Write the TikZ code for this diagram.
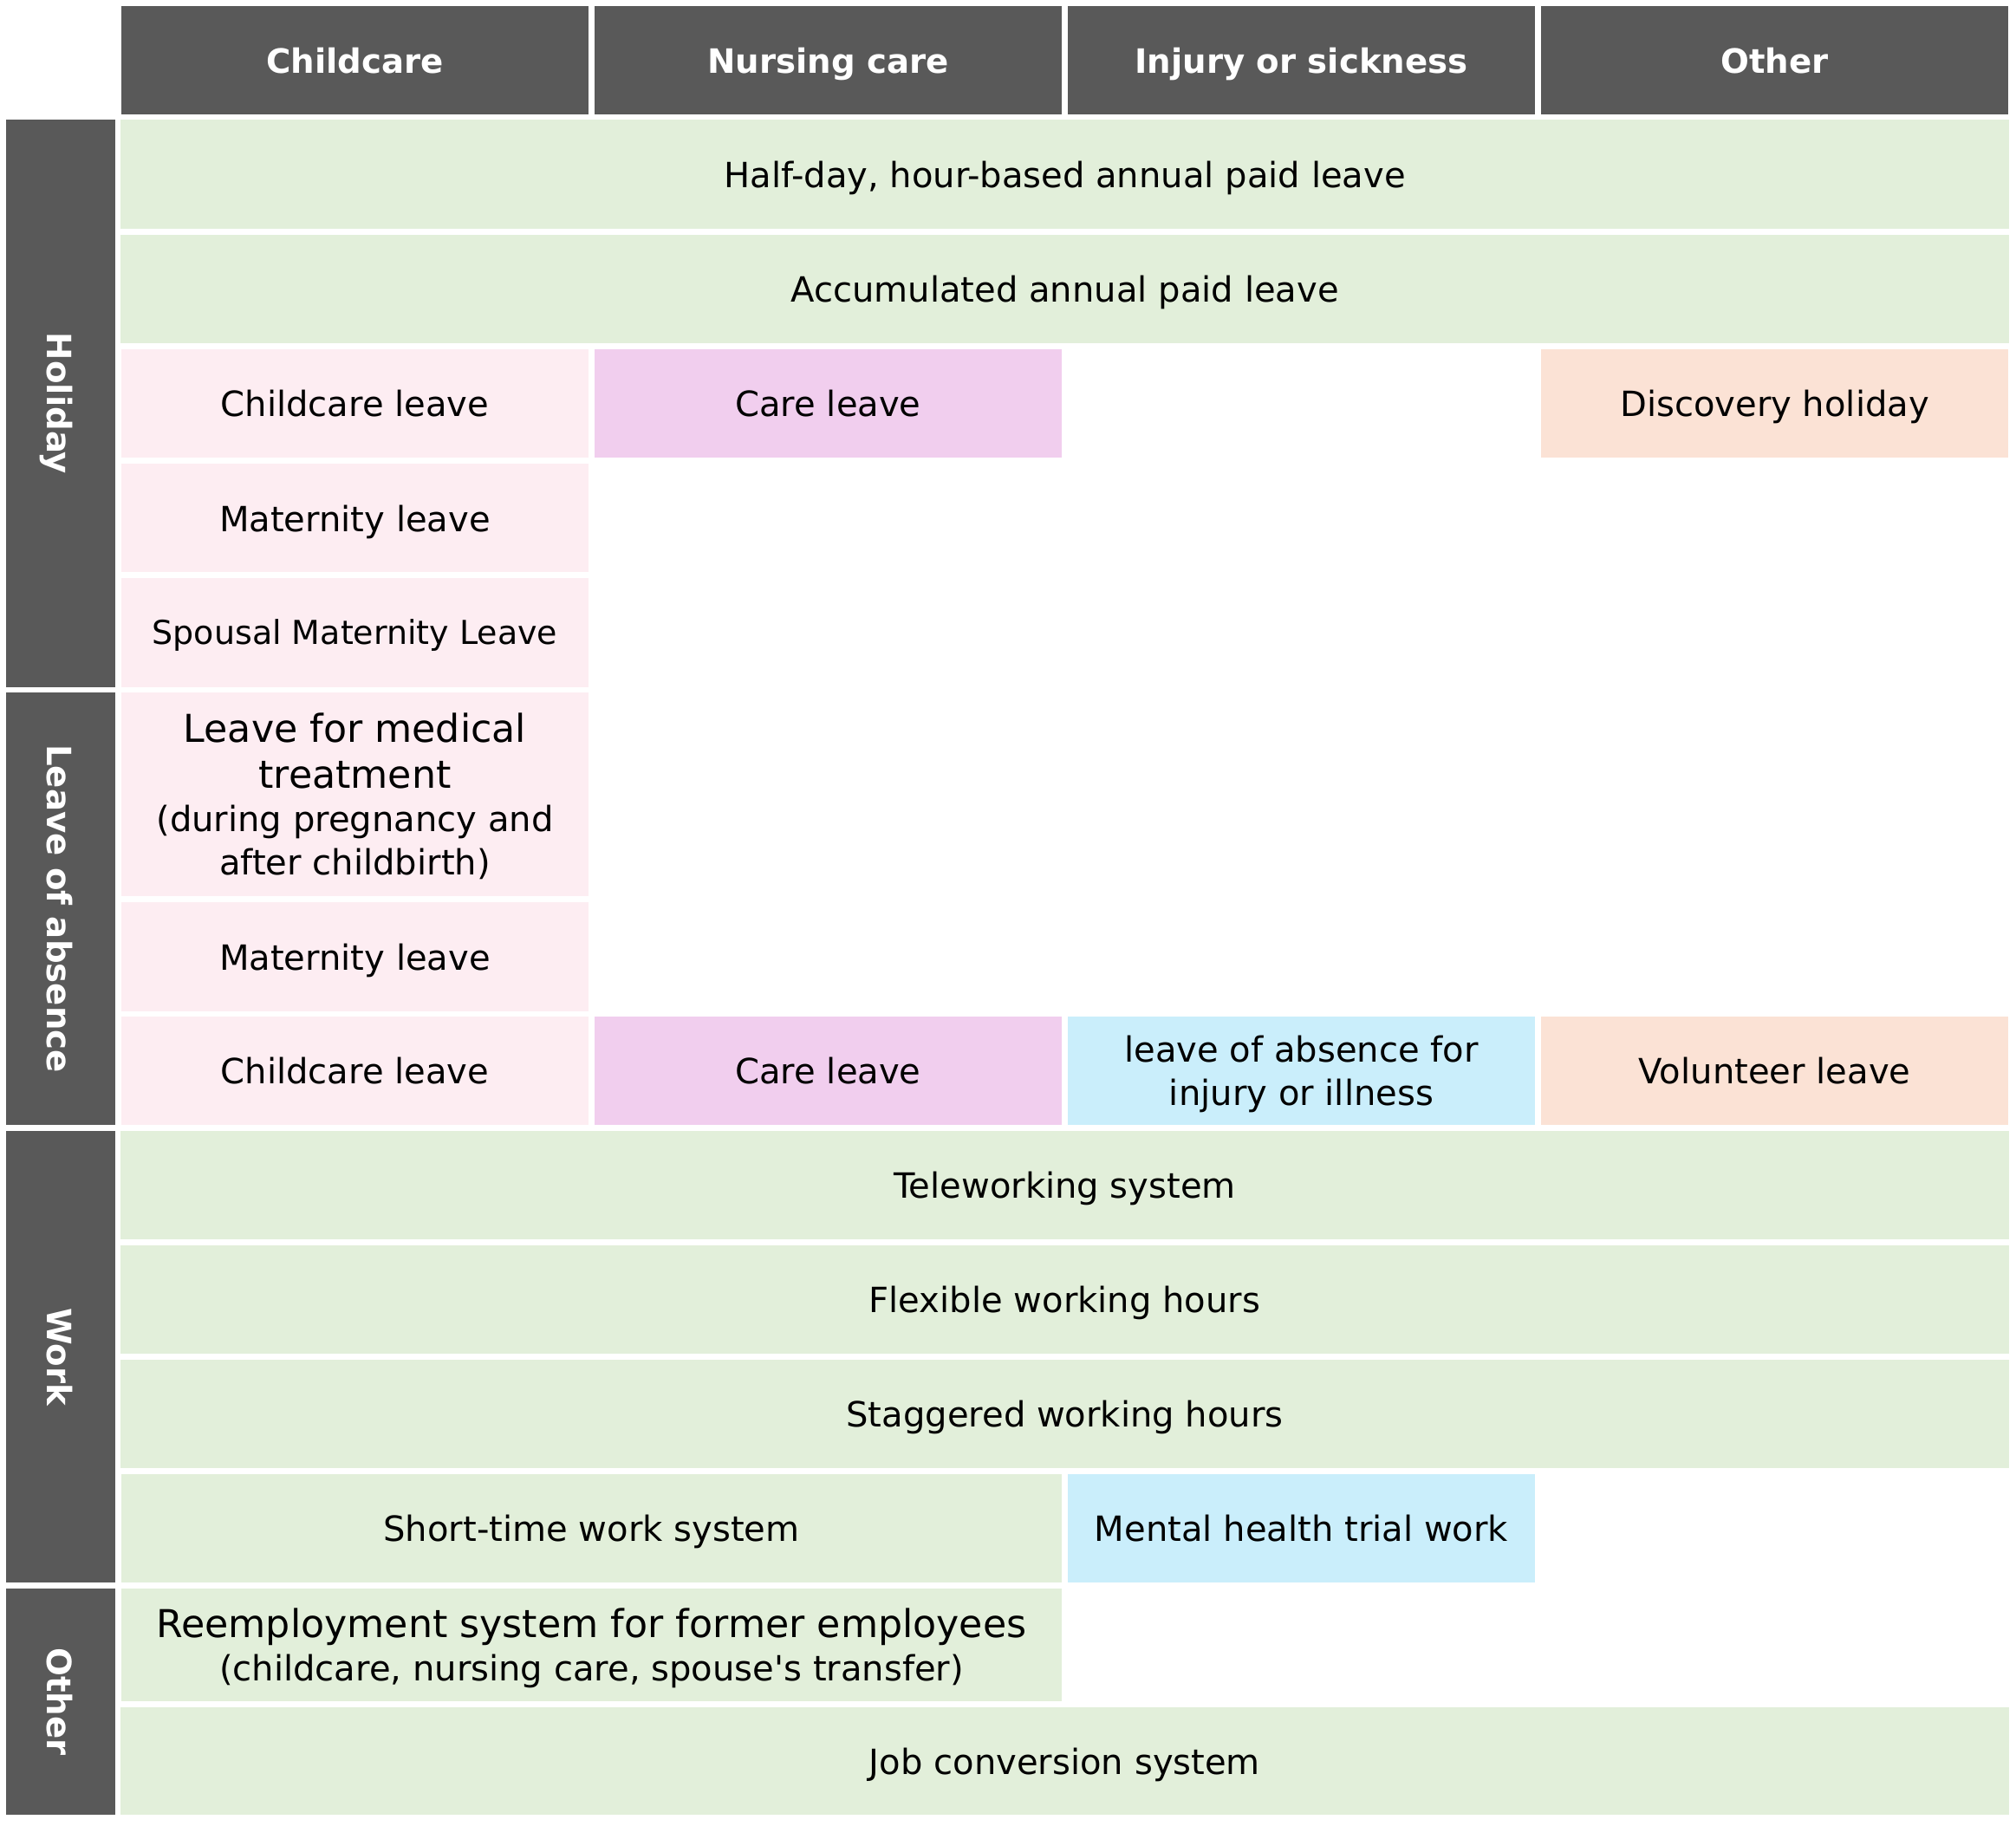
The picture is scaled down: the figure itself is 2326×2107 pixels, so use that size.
\documentclass[tikz,border=0pt]{standalone}
\usepackage{fontspec}
\setmainfont{DejaVu Sans}
\definecolor{hdrgray}{HTML}{595959}
\definecolor{leafgreen}{HTML}{E2EFDA}
\definecolor{childpink}{HTML}{FDEDF2}
\definecolor{carepink}{HTML}{F1CEEE}
\definecolor{sickblue}{HTML}{CAEEFB}
\definecolor{otherpeach}{HTML}{FBE2D5}
\newcommand\bigtxt{\fontsize{12.6}{15.2}\selectfont}
\begin{document}
\begin{tikzpicture}[x=.01cm,y=-.01cm,
 cell/.style={inner sep=0pt,outer sep=0pt,align=center,minimum height=1.252cm,
  text height=0.88em,text depth=0pt,font=\fontsize{11.4}{14.2}\selectfont},
 colhead/.style={cell,fill=hdrgray,text=white,minimum width=5.39cm,
  minimum height=1.25cm,font=\fontsize{11}{13}\selectfont\bfseries},
 rowhead/.style={cell,fill=hdrgray,text=white,rotate=-90,minimum height=1.26cm,
  font=\fontsize{11}{13}\selectfont\bfseries},
 one/.style={minimum width=5.39cm},
 two/.style={minimum width=10.85cm},
 four/.style={minimum width=21.77cm},
 green/.style={cell,fill=leafgreen},
 pink/.style={cell,one,fill=childpink},
 care/.style={cell,one,fill=carepink},
 blue/.style={cell,one,fill=sickblue},
 peach/.style={cell,one,fill=otherpeach}]
 \useasboundingbox (0,0) rectangle (2326,2107);
 \path
 (409.5,69.5) node[colhead] (hchild) {Childcare} % <<< header
 ++(546,0) node[colhead] (hnursing) {Nursing care}
 ++(546,0) node[colhead] (hinjury) {Injury or sickness}
 ++(546,0) node[colhead] (hother) {Other}
 (70,465.5) node[rowhead,minimum width=6.54cm] (rholiday) {Holiday}
 (70,1048.5) node[rowhead,minimum width=4.99cm] (rleave) {Leave of absence}
 (70,1565.5) node[rowhead,minimum width=5.21cm] (rwork) {Work}
 (70,1963.5) node[rowhead,minimum width=2.61cm] (rother) {Other};
 \path
 (1228.5,201.1) node[green,four] (halfday) {Half-day, hour-based annual paid leave} % <<< holiday
 ++(0,132.2) node[green,four] (accum) {Accumulated annual paid leave}
 (409.5,465.5) node[pink] (hchildcare) {Childcare leave}
 ++(546,0) node[care] (hcare) {Care leave}
 ++(1092,0) node[peach] (discovery) {Discovery holiday}
 (409.5,597.7) node[pink] (hmaternity) {Maternity leave}
 ++(0,132.2) node[pink,font=\fontsize{10.8}{13}\selectfont,text height=.78em] (spousal) {Spousal Maternity Leave};
 \path
 (409.5,916.5) node[pink,minimum height=2.35cm,text height=1.86cm] (medical) % <<< leave of absence
  {\bigtxt Leave for medical\\[1pt]\bigtxt treatment\\(during pregnancy and\\after childbirth)}
 (409.5,1104) node[pink] (lmaternity) {Maternity leave}
 ++(0,131.5) node[pink] (lchildcare) {Childcare leave}
 ++(546,0) node[care] (lcare) {Care leave}
 ++(546,0) node[blue,text height=.79cm] (sickleave) {leave of absence for\\injury or illness}
 ++(546,0) node[peach] (volunteer) {Volunteer leave};
 \path
 (1228.5,1367.5) node[green,four] (telework) {Teleworking system} % <<< work
 ++(0,132) node[green,four] (flexible) {Flexible working hours}
 ++(0,132) node[green,four] (staggered) {Staggered working hours}
 (682.5,1763.5) node[green,two] (shorttime) {Short-time work system}
 (1501.5,1763.5) node[blue] (mental) {Mental health trial work}
 (682.5,1898) node[green,two,minimum height=1.30cm,text height=.82cm] (reemploy) % <<< other
  {\bigtxt Reemployment system for former employees\\(childcare, nursing care, spouse\textquotesingle s transfer)}
 (1228.5,2032) node[green,four,minimum height=1.24cm] (jobconv) {Job conversion system};
\end{tikzpicture}
\end{document}
